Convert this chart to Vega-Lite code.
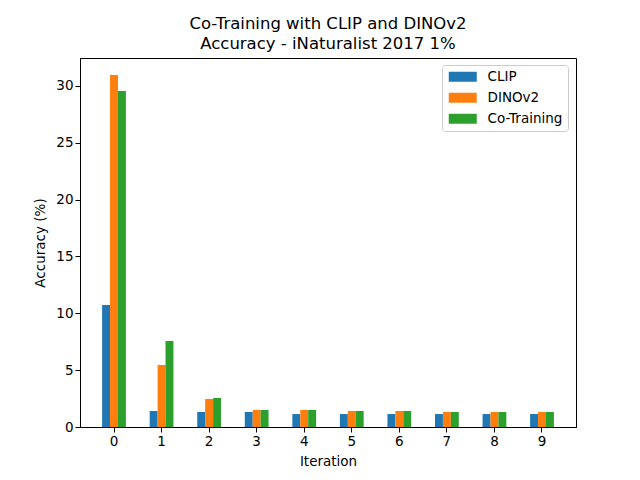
{
  "$schema": "https://vega.github.io/schema/vega-lite/v6.json",
  "width": 496,
  "height": 369,
  "autosize": {"type": "none"},
  "padding": {"left": 80, "top": 58, "right": 64, "bottom": 53},
  "background": "white",
  "config": {
    "font": "DejaVu Sans",
    "view": {"stroke": "black", "strokeWidth": 1},
    "axis": {
      "domainColor": "black",
      "tickColor": "black",
      "labelColor": "black",
      "titleColor": "black",
      "labelFontSize": 13.5,
      "titleFontSize": 13.5,
      "titleFontWeight": "normal",
      "tickSize": 5,
      "grid": false
    }
  },
  "title": {
    "text": ["Co-Training with CLIP and DINOv2", "Accuracy - iNaturalist 2017 1%"],
    "fontSize": 16.5,
    "fontWeight": "normal",
    "color": "black",
    "lineHeight": 20,
    "offset": 6,
    "anchor": "middle"
  },
  "data": {
    "values": [
      {"iteration": "0", "model": "CLIP", "accuracy": 10.73},
      {"iteration": "0", "model": "DINOv2", "accuracy": 30.96},
      {"iteration": "0", "model": "Co-Training", "accuracy": 29.55},
      {"iteration": "1", "model": "CLIP", "accuracy": 1.41},
      {"iteration": "1", "model": "DINOv2", "accuracy": 5.45},
      {"iteration": "1", "model": "Co-Training", "accuracy": 7.56},
      {"iteration": "2", "model": "CLIP", "accuracy": 1.32},
      {"iteration": "2", "model": "DINOv2", "accuracy": 2.46},
      {"iteration": "2", "model": "Co-Training", "accuracy": 2.55},
      {"iteration": "3", "model": "CLIP", "accuracy": 1.32},
      {"iteration": "3", "model": "DINOv2", "accuracy": 1.5},
      {"iteration": "3", "model": "Co-Training", "accuracy": 1.5},
      {"iteration": "4", "model": "CLIP", "accuracy": 1.14},
      {"iteration": "4", "model": "DINOv2", "accuracy": 1.5},
      {"iteration": "4", "model": "Co-Training", "accuracy": 1.5},
      {"iteration": "5", "model": "CLIP", "accuracy": 1.14},
      {"iteration": "5", "model": "DINOv2", "accuracy": 1.41},
      {"iteration": "5", "model": "Co-Training", "accuracy": 1.41},
      {"iteration": "6", "model": "CLIP", "accuracy": 1.14},
      {"iteration": "6", "model": "DINOv2", "accuracy": 1.41},
      {"iteration": "6", "model": "Co-Training", "accuracy": 1.41},
      {"iteration": "7", "model": "CLIP", "accuracy": 1.14},
      {"iteration": "7", "model": "DINOv2", "accuracy": 1.32},
      {"iteration": "7", "model": "Co-Training", "accuracy": 1.32},
      {"iteration": "8", "model": "CLIP", "accuracy": 1.14},
      {"iteration": "8", "model": "DINOv2", "accuracy": 1.32},
      {"iteration": "8", "model": "Co-Training", "accuracy": 1.32},
      {"iteration": "9", "model": "CLIP", "accuracy": 1.14},
      {"iteration": "9", "model": "DINOv2", "accuracy": 1.32},
      {"iteration": "9", "model": "Co-Training", "accuracy": 1.32}
    ]
  },
  "mark": {"type": "bar"},
  "encoding": {
    "x": {
      "field": "iteration",
      "type": "nominal",
      "title": "Iteration",
      "scale": {"paddingInner": 0.5, "paddingOuter": 0.465},
      "axis": {"labelAngle": 0, "titlePadding": 7}
    },
    "xOffset": {
      "field": "model",
      "type": "nominal",
      "scale": {"domain": ["CLIP", "DINOv2", "Co-Training"], "paddingInner": 0, "paddingOuter": 0}
    },
    "y": {
      "field": "accuracy",
      "type": "quantitative",
      "title": "Accuracy (%)",
      "scale": {"domain": [0, 32.45], "nice": false},
      "axis": {"values": [0, 5, 10, 15, 20, 25, 30], "titlePadding": 8}
    },
    "color": {
      "field": "model",
      "type": "nominal",
      "scale": {
        "domain": ["CLIP", "DINOv2", "Co-Training"],
        "range": ["#1f77b4", "#ff7f0e", "#2ca02c"]
      },
      "legend": {
        "title": null,
        "orient": "none",
        "legendX": 362,
        "legendY": 7,
        "symbolType": "M-1,-1H4.6V1H-1Z",
        "symbolSize": 100,
        "symbolOpacity": 1,
        "symbolStrokeWidth": 0,
        "labelFontSize": 13.5,
        "labelColor": "black",
        "rowPadding": 6,
        "padding": 5,
        "strokeColor": "#cccccc",
        "fillColor": "white",
        "cornerRadius": 3,
        "labelOffset": 27
      }
    }
  }
}
